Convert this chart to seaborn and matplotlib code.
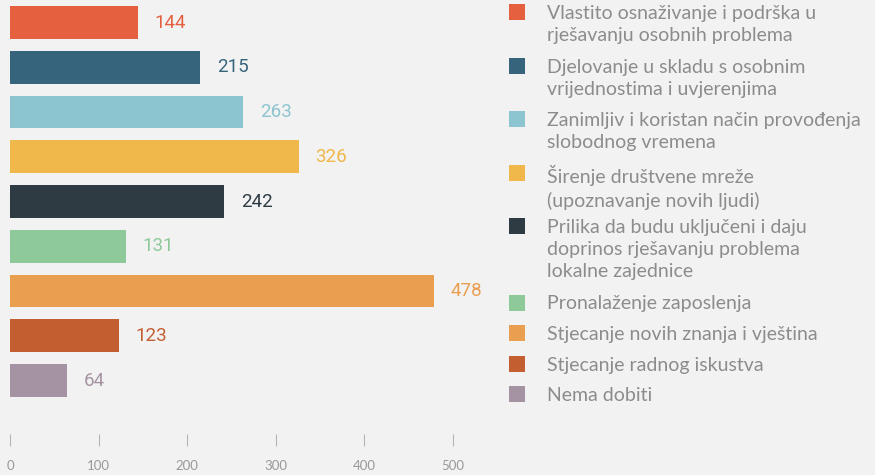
import matplotlib
matplotlib.use("Agg")
import matplotlib.pyplot as plt
from matplotlib.patches import Rectangle
import seaborn as sns
import pandas as pd

# Survey answers: benefits of volunteering
categories = [
    "Vlastito osnaživanje i podrška u\nrješavanju osobnih problema",
    "Djelovanje u skladu s osobnim\nvrijednostima i uvjerenjima",
    "Zanimljiv i koristan način provođenja\nslobodnog vremena",
    "Širenje društvene mreže\n(upoznavanje novih ljudi)",
    "Prilika da budu uključeni i daju\ndoprinos rješavanju problema\nlokalne zajednice",
    "Pronalaženje zaposlenja",
    "Stjecanje novih znanja i vještina",
    "Stjecanje radnog iskustva",
    "Nema dobiti",
]
values = [144, 215, 263, 326, 242, 131, 478, 123, 64]
colors = ["#E4603F", "#36647C", "#8CC4CF", "#F0B74B", "#2E3B43",
          "#8EC99A", "#EA9F50", "#C35E31", "#A593A3"]
x_ticks = [0, 100, 200, 300, 400, 500]

BG = "#F2F2F2"
W, H = 875, 475

sns.set_theme(style="white")
plt.rcParams["font.family"] = ["Lato", "DejaVu Sans"]

fig = plt.figure(figsize=(W / 100, H / 100), dpi=100, facecolor=BG)

# plot area in pixel units (left, top, right, bottom)
px_left, px_top, px_right, px_bottom = 10, 0, 453, 434
ax = fig.add_axes([px_left / W, 1 - px_bottom / H,
                   (px_right - px_left) / W, (px_bottom - px_top) / H])
ax.set_facecolor(BG)

df = pd.DataFrame({"category": categories, "value": values})
sns.barplot(data=df, x="value", y="category", hue="category",
            palette=colors, legend=False, orient="h", width=0.737,
            saturation=1, linewidth=0, edgecolor="none", ax=ax)

pitch = 44.75
first_center = 22.5
ax.set_ylim((px_bottom - first_center) / pitch, -first_center / pitch)
ax.set_xlim(0, 500)

for container in ax.containers:
    col = container.patches[0].get_facecolor()
    ax.bar_label(container, padding=12, color=col, fontsize=13.5,
                 family=["Roboto", "DejaVu Sans"])

for s in ax.spines.values():
    s.set_visible(False)
ax.set_yticks([])
ax.set_xticks(x_ticks)
ax.set_xticklabels([str(t) for t in x_ticks])
ax.tick_params(axis="x", bottom=True, direction="out", length=8.5,
               width=0.8, color="#B5B5B5", pad=10, labelsize=9.5,
               labelcolor="#999999")
ax.set_xlabel("")
ax.set_ylabel("")

# legend on the right: square swatch + wrapped label
sq = 16
y_px = 4
for label, col in zip(categories, colors):
    nlines = label.count("\n") + 1
    fig.add_artist(Rectangle((509 / W, 1 - (y_px + sq) / H), sq / W, sq / H,
                             transform=fig.transFigure, facecolor=col,
                             edgecolor="none"))
    fig.text(547 / W, 1 - (y_px + 1) / H, label, ha="left", va="top",
             fontsize=14, color="#8C8C8C", linespacing=1.37)
    y_px += 30.5 + 23 * (nlines - 1)

fig.savefig("out.png", dpi=100, facecolor=BG)
